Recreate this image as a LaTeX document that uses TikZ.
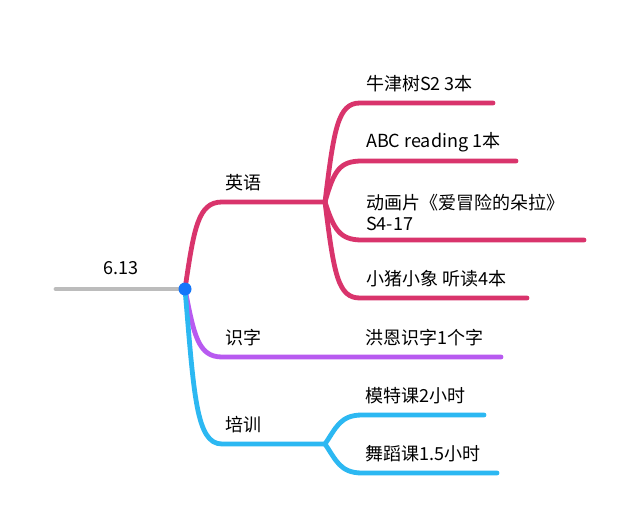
\documentclass[tikz,border=0pt]{standalone}
\usepackage{fontspec}
\setmainfont{Noto Sans CJK SC}
\definecolor{cpink}{RGB}{217,52,108}
\definecolor{cpurple}{RGB}{184,90,240}
\definecolor{cblue}{RGB}{44,184,242}
\definecolor{cdot}{RGB}{20,118,250}
\definecolor{cgray}{RGB}{188,188,188}
\begin{document}
\begin{tikzpicture}[x=1pt,y=-1pt,
  lbl/.style={anchor=west,inner sep=0pt,font=\fontsize{18}{21}\selectfont,text=black},
  br/.style={line width=4.8pt,line cap=round,line join=round}]
\useasboundingbox[fill=white] (0,0) rectangle (640,530);
% coordinates
\coordinate (rootL) at (56,289);
\coordinate (root) at (185,289);
\coordinate (en) at (325,202);
\coordinate (sz) at (325,357);
\coordinate (px) at (325,444);
\coordinate (e1) at (493,103);
\coordinate (e2) at (516,161);
\coordinate (e3) at (584,240);
\coordinate (e4) at (527,298);
\coordinate (s1) at (501,357);
\coordinate (p1) at (484,415);
\coordinate (p2) at (497,473);
% root
\draw[br,cgray] (rootL) -- (root);
\node[lbl,anchor=center] (r) at (121,268) {6.13};
% main branches
\draw[br,cpink] (root) .. controls (194,228) and (198,202) .. (222,202) -- (en);
\draw[br,cpurple] (root) .. controls (194,335) and (198,357) .. (222,357) -- (sz) -- (s1);
\draw[br,cblue] (root) .. controls (194,395) and (196,444) .. (222,444) -- (px);
\node[lbl] (nen) at (225,183) {英语};
\node[lbl] (nsz) at (225,338) {识字};
\node[lbl] (npx) at (225,425) {培训};
% english children
\draw[br,cpink] (en) .. controls (334,128) and (338,103) .. (360,103) -- (e1);
\draw[br,cpink] (en) .. controls (334,170) and (340,161) .. (362,161) -- (e2);
\draw[br,cpink] (en) .. controls (334,230) and (340,240) .. (362,240) -- (e3);
\draw[br,cpink] (en) .. controls (334,275) and (338,298) .. (360,298) -- (e4);
\node[lbl] (t1) at (366,84) {牛津树S2 3本};
\node[lbl] (t2) at (366,142) {ABC reading 1本};
\node[lbl,align=left] (t3) at (366,212) {动画片《爱冒险的朵拉》\\S4-17};
\node[lbl] (t4) at (366,279) {小猪小象 听读4本};
\node[lbl] (t5) at (365,338) {洪恩识字1个字};
% training children
\draw[br,cblue] (px) .. controls (336,428) and (340,415) .. (362,415) -- (p1);
\draw[br,cblue] (px) .. controls (336,460) and (340,473) .. (362,473) -- (p2);
\node[lbl] (t6) at (365,396) {模特课2小时};
\node[lbl] (t7) at (365,454) {舞蹈课1.5小时};
% dot
\fill[cdot] (root) circle (6.5);
\end{tikzpicture}
\end{document}
